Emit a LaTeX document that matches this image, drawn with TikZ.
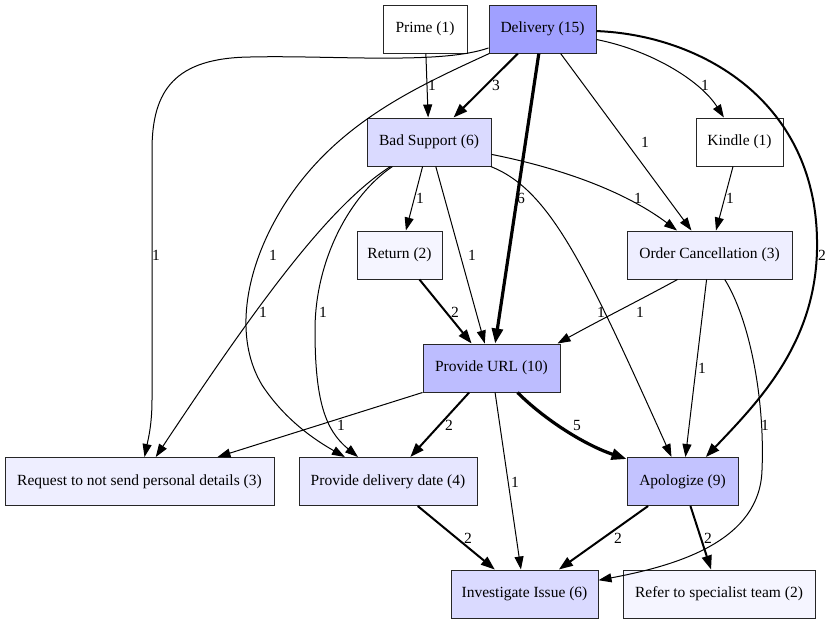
\documentclass[tikz,border=0pt]{standalone}
\usepackage{fontspec}
\setmainfont{Liberation Serif}
\usepackage{xcolor}
\definecolor{heatFifteen}{HTML}{A0A0FF}
\definecolor{heatTen}{HTML}{BDBDFF}
\definecolor{heatNine}{HTML}{C3C3FF}
\definecolor{heatSix}{HTML}{DADAFF}
\definecolor{heatFour}{HTML}{E6E6FF}
\definecolor{heatThree}{HTML}{EEEEFF}
\definecolor{heatTwo}{HTML}{F5F5FF}
\usetikzlibrary{arrows.meta}

\begin{document}
\begin{tikzpicture}[x=1pt, y=-1pt,
  box/.style={rectangle, draw=black!85, line width=1pt, minimum height=48pt, inner sep=0pt, font=\fontsize{15.5}{18}\selectfont},
  lbl/.style={inner sep=0pt, font=\fontsize{15.5}{18}\selectfont},
  flowThin/.style={line width=1pt, -{Triangle[length=13pt,width=9pt]}},
  flowMid/.style={line width=2pt, -{Triangle[length=14pt,width=10pt]}},
  flowThick/.style={line width=3.2pt, -{Triangle[length=15pt,width=11pt]}}]
  \useasboundingbox[fill=white] (0,0) rectangle (832,625);
  \node[box, fill=white, minimum width=84pt] (P) at (425,29) {Prime (1)};
  \node[box, fill=heatFifteen, minimum width=107pt] (D) at (542.5,29) {Delivery (15)};
  \node[box, fill=heatSix, minimum width=124pt] (BS) at (429,142) {Bad Support (6)};
  \node[box, fill=white, minimum width=87pt] (K) at (739.5,142) {Kindle (1)};
  \node[box, fill=heatTwo, minimum width=85pt] (R) at (399.5,255) {Return (2)};
  \node[box, fill=heatThree, minimum width=165pt] (OC) at (709.5,255) {Order Cancellation (3)};
  \node[box, fill=heatTen, minimum width=137pt] (U) at (491.5,368) {Provide URL (10)};
  \node[box, fill=heatThree, minimum width=269pt] (RQ) at (139.5,481.5) {Request to not send personal details (3)};
  \node[box, fill=heatFour, minimum width=178pt] (DD) at (388,481.5) {Provide delivery date (4)};
  \node[box, fill=heatNine, minimum width=111pt] (AP) at (682.5,481.5) {Apologize (9)};
  \node[box, fill=heatSix, minimum width=147pt] (II) at (524.5,594) {Investigate Issue (6)};
  \node[box, fill=heatTwo, minimum width=192pt] (RS) at (719,594) {Refer to specialist team (2)};
  \draw[flowThin] (P) -- (BS) node[lbl] at (432,85) {1};
  \draw[flowMid] (D) -- (BS) node[lbl] at (496,85) {3};
  \draw[flowThick] (D) -- (U) node[lbl] at (521,198) {6};
  \draw[flowThin] (D) -- (OC) node[lbl] at (645,142) {1};
  \draw[flowThin] (D) .. controls (650,50) and (700,80) .. (K) node[lbl] at (705,85) {1};
  \draw[flowMid] (D) .. controls (700,35) and (815,100) .. (817,240) .. controls (819,340) and (760,400) .. (AP) node[lbl] at (822,255) {2};
  \draw[flowThin] (D) .. controls (440,65) and (330,55) .. (250,57) .. controls (175,58) and (152,90) .. (152,150) -- (152,400) .. controls (152,425) and (148,440) .. (RQ) node[lbl] at (156,255) {1};
  \draw[flowThin] (D) .. controls (410,90) and (320,130) .. (270,230) .. controls (245,280) and (235,340) .. (262,385) .. controls (285,420) and (315,440) .. (DD) node[lbl] at (273,255) {1};
  \draw[flowThin] (BS) -- (R) node[lbl] at (420,198) {1};
  \draw[flowThin] (BS) .. controls (570,170) and (630,195) .. (OC) node[lbl] at (638,198) {1};
  \draw[flowThin] (BS) -- (U) node[lbl] at (472,255) {1};
  \draw[flowThin] (BS) .. controls (550,190) and (585,265) .. (AP) node[lbl] at (601,312) {1};
  \draw[flowThin] (BS) .. controls (330,205) and (260,300) .. (RQ) node[lbl] at (263,312) {1};
  \draw[flowThin] (BS) .. controls (350,195) and (315,260) .. (315,330) .. controls (315,400) and (325,430) .. (DD) node[lbl] at (323,312) {1};
  \draw[flowThin] (K) -- (OC) node[lbl] at (730,198) {1};
  \draw[flowMid] (R) -- (U) node[lbl] at (455,312) {2};
  \draw[flowThin] ([xshift=-32pt]OC.south) .. controls (640,300) and (600,320) .. ([xshift=-3pt]U.north east) node[lbl] at (640,312) {1};
  \draw[flowThin] (OC) -- (AP) node[lbl] at (702,368) {1};
  \draw[flowThin] (OC) .. controls (750,320) and (765,400) .. (762,470) .. controls (760,540) and (680,565) .. (II) node[lbl] at (765,425) {1};
  \draw[flowThin] (U.south west) -- ([xshift=78pt]RQ.north) node[lbl] at (341,425) {1};
  \draw[flowMid] (U) -- (DD) node[lbl] at (449,425) {2};
  \draw[flowThin] (U) -- (II) node[lbl] at (515,482) {1};
  \draw[flowThick] ([xshift=26pt]U.south) .. controls (545,420) and (585,445) .. ([yshift=-2pt]AP.north west) node[lbl] at (577,425) {5};
  \draw[flowMid] (DD) -- (II) node[lbl] at (468,538) {2};
  \draw[flowMid] (AP) -- (II) node[lbl] at (618,538) {2};
  \draw[flowMid] (AP) -- (RS) node[lbl] at (708,538) {2};
\end{tikzpicture}
\end{document}
